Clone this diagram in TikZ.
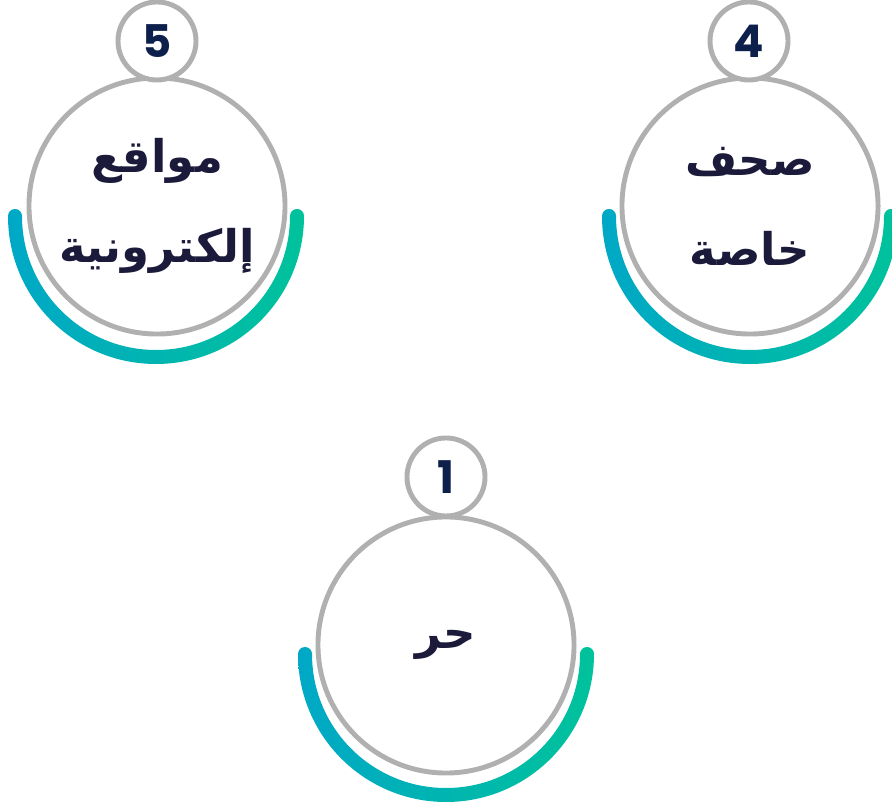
\documentclass[tikz,border=0pt]{standalone}
\usepackage{fontspec}
\newfontfamily\arabicfont[Script=Arabic]{DejaVu Sans}
\newfontfamily\numfont{Poppins}
\TeXXeTstate=1
\definecolor{ringgray}{HTML}{B0B0B0}
\definecolor{numnavy}{HTML}{0D1F4B}
\definecolor{labeltext}{HTML}{1B1A3A}
\definecolor{arcleft}{HTML}{00A8C6}
\definecolor{arcright}{HTML}{00C29B}
\begin{document}
\begin{tikzpicture}[x=0.025cm,y=0.025cm,
        bigring/.style={circle,draw=ringgray,line width=3.5pt,fill=white,minimum size=6.4cm,inner sep=0pt,
            align=center,text=labeltext,font=\arabicfont\bfseries\fontsize{32}{64}\selectfont},
        numring/.style={circle,draw=ringgray,line width=3.5pt,fill=white,minimum size=1.95cm,inner sep=0pt,
            text=numnavy,font=\numfont\bfseries\fontsize{32}{32}\selectfont}]
        \useasboundingbox (0,0) rectangle (892,807);
        \begin{scope}[left color=arcleft, right color=arcright]
            \shade (8,591) arc[start angle=180,end angle=360,radius=148] arc[start angle=0,end angle=180,radius=7]
                arc[start angle=360,end angle=180,radius=134] arc[start angle=0,end angle=180,radius=7] -- cycle;
            \shade (602,591) arc[start angle=180,end angle=360,radius=148] arc[start angle=0,end angle=180,radius=7]
                arc[start angle=360,end angle=180,radius=134] arc[start angle=0,end angle=180,radius=7] -- cycle;
            \shade (298,153) arc[start angle=180,end angle=360,radius=148] arc[start angle=0,end angle=180,radius=7]
                arc[start angle=360,end angle=180,radius=134] arc[start angle=0,end angle=180,radius=7] -- cycle;
        \end{scope}
        \node[bigring] (sites) at (157,601) {\beginR مواقع\endR\\\beginR إلكترونية\endR};
        \node[bigring] (papers) at (750,601) {\beginR صحف\endR\\\beginR خاصة\endR};
        \node[bigring] (free) at (446,162) {\beginR حر\endR};
        \node[numring] (n5) at (157,766) {5};
        \node[numring] (n4) at (749,766) {4};
        \node[numring] (n1) at (446,330) {1};
    \end{tikzpicture}
\end{document}
